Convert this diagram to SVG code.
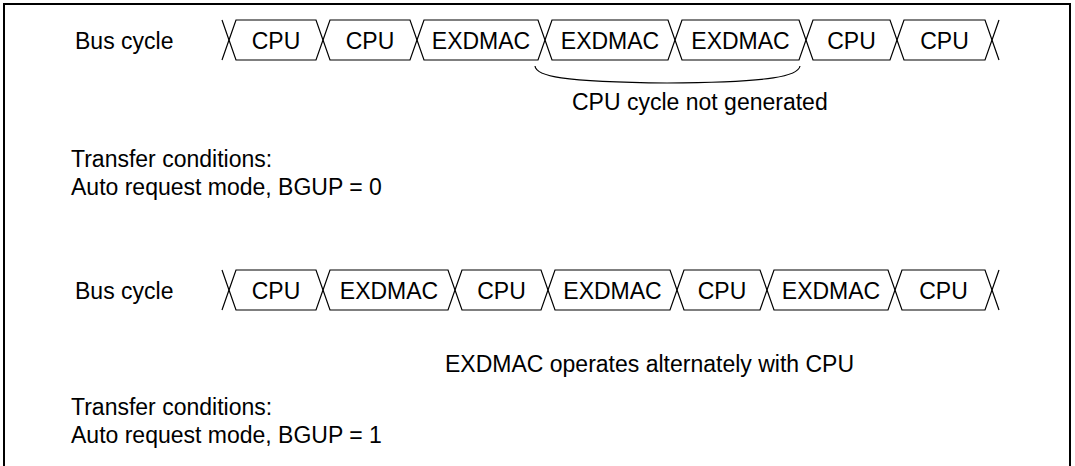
<svg xmlns="http://www.w3.org/2000/svg" width="1075" height="466" viewBox="0 0 1075 466">
<style>
text{font-family:"Liberation Sans",Arial,sans-serif;font-size:23px;fill:#000}
.c{text-anchor:middle}
.box{fill:none;stroke:#000;stroke-width:1.2;stroke-linejoin:miter}
.frame{fill:none;stroke:#000;stroke-width:2}
.brace{fill:none;stroke:#000;stroke-width:1.2}
</style>
<rect width="1075" height="466" fill="#fff"/>
<path class="frame" d="M4,466 V4 H1070 V466"/>

<g id="row1">
<text x="75" y="48.5">Bus cycle</text>
<g id="r1b1"><polygon class="box" points="229,40 236,20 316,20 323,40 316,60 236,60"/><text class="c" x="276" y="48.5">CPU</text></g>
<g id="r1b2"><polygon class="box" points="323,40 330,20 410,20 417,40 410,60 330,60"/><text class="c" x="370" y="48.5">CPU</text></g>
<g id="r1b3"><polygon class="box" points="417,40 424,20 538,20 545,40 538,60 424,60"/><text class="c" x="481" y="48.5">EXDMAC</text></g>
<g id="r1b4"><polygon class="box" points="545,40 552,20 668,20 675,40 668,60 552,60"/><text class="c" x="610" y="48.5">EXDMAC</text></g>
<g id="r1b5"><polygon class="box" points="675,40 682,20 799,20 806,40 799,60 682,60"/><text class="c" x="740.5" y="48.5">EXDMAC</text></g>
<g id="r1b6"><polygon class="box" points="806,40 813,20 890,20 897,40 890,60 813,60"/><text class="c" x="851.5" y="48.5">CPU</text></g>
<g id="r1b7"><polygon class="box" points="897,40 904,20 985,20 992,40 985,60 904,60"/><text class="c" x="944.5" y="48.5">CPU</text></g>
<path class="box" d="M222,20 L229,40 L222,60 M999,20 L992,40 L999,60"/>
</g>

<g id="connectors">
<path class="brace" d="M535,66 C536,76 560,82 667,83 C775,82 798,76 800,66"/>
</g>

<g id="note1">
<text x="572" y="110">CPU cycle not generated</text>
</g>

<g id="cond1">
<text x="71" y="167">Transfer conditions:</text>
<text x="71" y="195">Auto request mode, BGUP = 0</text>
</g>

<g id="row2">
<text x="75" y="298.5">Bus cycle</text>
<g id="r2b1"><polygon class="box" points="229,290 236,270 316,270 323,290 316,310 236,310"/><text class="c" x="276" y="298.5">CPU</text></g>
<g id="r2b2"><polygon class="box" points="323,290 330,270 448,270 455,290 448,310 330,310"/><text class="c" x="389" y="298.5">EXDMAC</text></g>
<g id="r2b3"><polygon class="box" points="455,290 462,270 541,270 548,290 541,310 462,310"/><text class="c" x="501.5" y="298.5">CPU</text></g>
<g id="r2b4"><polygon class="box" points="548,290 555,270 670,270 677,290 670,310 555,310"/><text class="c" x="612.5" y="298.5">EXDMAC</text></g>
<g id="r2b5"><polygon class="box" points="677,290 684,270 760,270 767,290 760,310 684,310"/><text class="c" x="722" y="298.5">CPU</text></g>
<g id="r2b6"><polygon class="box" points="767,290 774,270 888,270 895,290 888,310 774,310"/><text class="c" x="831" y="298.5">EXDMAC</text></g>
<g id="r2b7"><polygon class="box" points="895,290 902,270 985,270 992,290 985,310 902,310"/><text class="c" x="943.5" y="298.5">CPU</text></g>
<path class="box" d="M222,270 L229,290 L222,310 M999,270 L992,290 L999,310"/>
</g>

<g id="note2">
<text x="445" y="371.5">EXDMAC operates alternately with CPU</text>
</g>

<g id="cond2">
<text x="71" y="415">Transfer conditions:</text>
<text x="71" y="443">Auto request mode, BGUP = 1</text>
</g>
</svg>
